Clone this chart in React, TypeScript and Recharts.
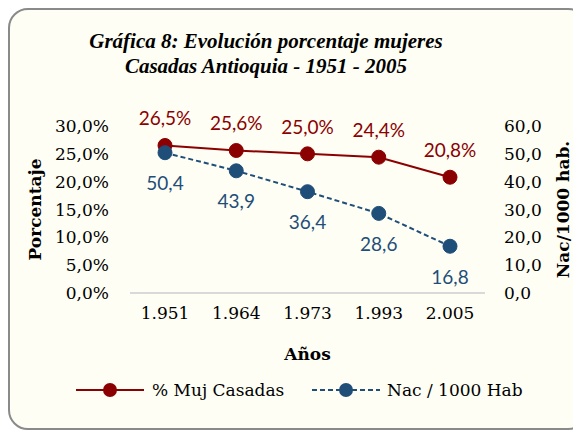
import { LineChart, Line, XAxis, YAxis, LabelList, Legend } from 'recharts'

const years = ['1.951', '1.964', '1.973', '1.993', '2.005']
const mujCasadas = [26.5, 25.6, 25.0, 24.4, 20.8]
const nacimientos = [50.4, 43.9, 36.4, 28.6, 16.8]
const leftTicks = [0, 5, 10, 15, 20, 25, 30]
const rightTicks = [0, 10, 20, 30, 40, 50, 60]
const seriesNames = ['% Muj Casadas', 'Nac / 1000 Hab']

const RED = '#8B0000'
const BLUE = '#1F4E79'
const SERIF = '"DejaVu Serif", serif'
const SANS = 'Lato, "Open Sans", sans-serif'

const data = years.map((y, i) => ({ year: y, muj: mujCasadas[i], nac: nacimientos[i] }))

const fmt1 = (v: number) => v.toFixed(1).replace('.', ',')

function LegendBox() {
  const label = {
    position: 'absolute' as const, top: 4, fontFamily: SERIF, fontSize: 17, lineHeight: '22px', color: '#000', whiteSpace: 'nowrap' as const,
  }
  return (
    <div style={{ position: 'relative', width: 573, height: 30 }}>
      <svg width={573} height={30} style={{ position: 'absolute', left: 0, top: 0 }}>
        <line x1={76} y1={15} x2={144} y2={15} stroke={RED} strokeWidth={2} />
        <circle cx={110} cy={15} r={7} fill={RED} />
        <line x1={312} y1={15} x2={380} y2={15} stroke={BLUE} strokeWidth={2} strokeDasharray="5 3" />
        <circle cx={346} cy={15} r={7} fill={BLUE} />
      </svg>
      <span style={{ ...label, left: 152 }}>{seriesNames[0]}</span>
      <span style={{ ...label, left: 387 }}>{seriesNames[1]}</span>
    </div>
  )
}

export default function App() {
  return (
    <div style={{ position: 'absolute', left: 0, top: 0, width: 573, height: 440, background: '#fff' }}>
      <div
        style={{
          position: 'absolute', left: 8, top: 8, width: 580, height: 422,
          border: '2px solid #8a8a8a', borderRadius: 20, background: '#FEFEF4', boxSizing: 'border-box',
        }}
      />
      <div
        style={{
          position: 'absolute', left: 0, top: 29, width: 532, textAlign: 'center',
          fontFamily: '"Liberation Serif", serif', fontWeight: 'bold', fontStyle: 'italic',
          fontSize: 21, lineHeight: '25px', color: '#000',
        }}
      >
        Gráfica 8: Evolución porcentaje mujeres
        <br />
        Casadas Antioquia - 1951 - 2005
      </div>
      <div style={{ position: 'absolute', left: 0, top: 0 }}>
        <LineChart width={573} height={440} data={data} margin={{ top: 126, right: 0, bottom: 80, left: 0 }}>
          <XAxis
            dataKey="year"
            height={67}
            padding={{ left: 35, right: 35 }}
            axisLine={{ stroke: '#D9D9D9', strokeWidth: 2 }}
            tickLine={false}
            tickMargin={8}
            tick={{ fontFamily: SERIF, fontSize: 17, fill: '#000' }}
            label={{ value: 'Años', position: 'insideBottom', offset: 0, fontFamily: SERIF, fontSize: 17, fontWeight: 'bold', fill: '#000' }}
          />
          <YAxis
            yAxisId="left"
            width={130}
            domain={[0, 30]}
            ticks={leftTicks}
            axisLine={false}
            tickLine={false}
            tickSize={0}
            tickMargin={21}
            tickFormatter={(v: number) => fmt1(v) + '%'}
            tick={{ fontFamily: SERIF, fontSize: 17, fill: '#000' }}
            label={{
              content: ({ viewBox }: any) => {
                const cx = viewBox.x + 35
                const cy = viewBox.y + viewBox.height / 2
                return (
                  <text x={cx} y={cy} transform={`rotate(-90 ${cx} ${cy})`} textAnchor="middle" dominantBaseline="central"
                    style={{ fontFamily: SERIF, fontSize: 17, fontWeight: 'bold', fill: '#000' }}>Porcentaje</text>
                )
              },
            }}
          />
          <YAxis
            yAxisId="right"
            orientation="right"
            width={88}
            domain={[0, 60]}
            ticks={rightTicks}
            axisLine={false}
            tickLine={false}
            tickSize={0}
            tickMargin={19}
            tickFormatter={(v: number) => fmt1(v)}
            tick={{ fontFamily: SERIF, fontSize: 17, fill: '#000' }}
            label={{
              content: ({ viewBox }: any) => {
                const cx = viewBox.x + 78
                const cy = viewBox.y + viewBox.height / 2
                return (
                  <text x={cx} y={cy} transform={`rotate(-90 ${cx} ${cy})`} textAnchor="middle" dominantBaseline="central"
                    style={{ fontFamily: SERIF, fontSize: 17, fontWeight: 'bold', fill: '#000' }}>Nac/1000 hab.</text>
                )
              },
            }}
          />
          <Legend
            verticalAlign="middle"
            layout="horizontal"
            content={() => <LegendBox />}
            wrapperStyle={{ top: 375, left: 0, width: 573, height: 30 }}
          />
          <Line
            yAxisId="left"
            dataKey="muj"
            name={seriesNames[0]}
            stroke={RED}
            strokeWidth={2}
            dot={{ r: 7, fill: RED, stroke: RED, strokeWidth: 1 }}
            isAnimationActive={false}
          >
            <LabelList dataKey="muj" position="top" offset={20} formatter={(v: any) => fmt1(Number(v)) + '%'}
              fill={RED} fontFamily={SANS} fontSize={19} />
          </Line>
          <Line
            yAxisId="right"
            dataKey="nac"
            name={seriesNames[1]}
            stroke={BLUE}
            strokeWidth={2}
            strokeDasharray="5 3"
            dot={{ r: 7, fill: BLUE, stroke: BLUE, strokeWidth: 1, strokeDasharray: '' }}
            isAnimationActive={false}
          >
            <LabelList dataKey="nac" position="bottom" offset={24} formatter={(v: any) => fmt1(Number(v))}
              fill={BLUE} fontFamily={SANS} fontSize={19} />
          </Line>
        </LineChart>
      </div>
    </div>
  )
}
